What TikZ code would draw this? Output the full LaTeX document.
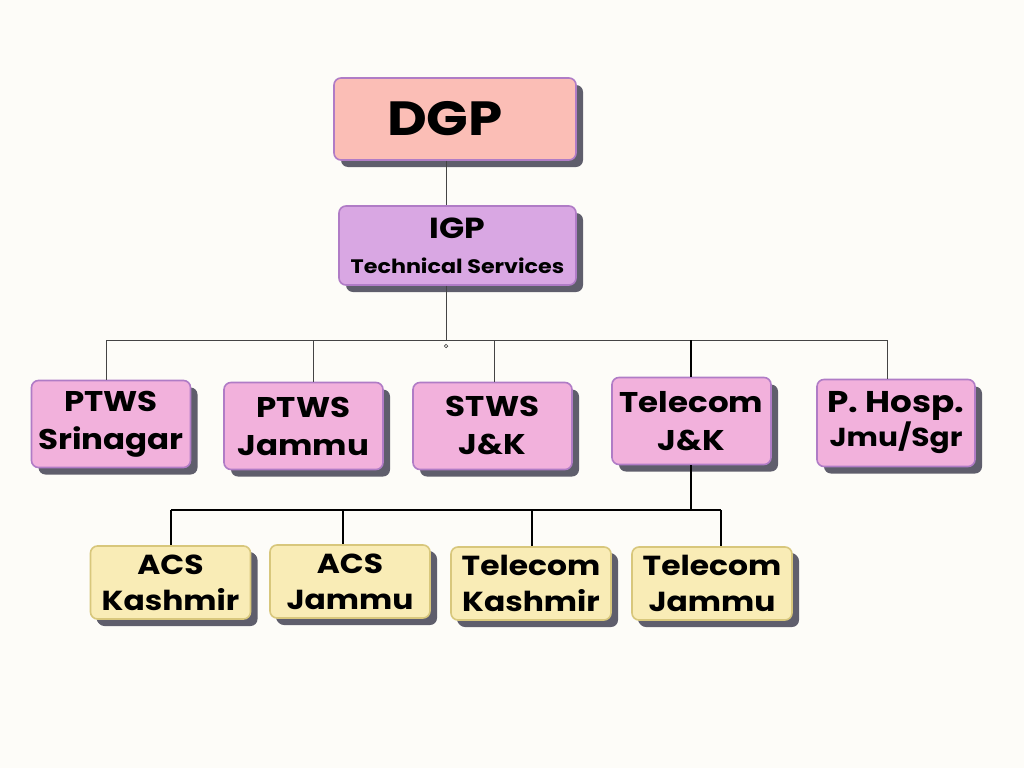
\documentclass[tikz,border=0pt]{standalone}
\usepackage{fontspec}
\setmainfont{Poppins}[FakeStretch=1.14]
\usetikzlibrary{shadows}
\definecolor{bg}{HTML}{FDFCF8}
\definecolor{dgpfill}{HTML}{FBBEB6}
\definecolor{igpfill}{HTML}{D9A7E3}
\definecolor{pinkfill}{HTML}{F2B1DC}
\definecolor{purpleedge}{HTML}{B07CC6}
\definecolor{yellowfill}{HTML}{F9ECB6}
\definecolor{yellowedge}{HTML}{D8C77C}
\definecolor{shadowc}{HTML}{5F5E6C}
\definecolor{linec}{HTML}{444444}
\tikzset{
  box/.style={rectangle, rounded corners=7pt, line width=1.6pt, align=center, inner sep=0pt,
    font=\bfseries, text=black,
    drop shadow={shadow xshift=7pt, shadow yshift=-7pt, fill=shadowc, opacity=1}},
  dgpbox/.style={box, fill=dgpfill, draw=purpleedge},
  igpbox/.style={box, fill=igpfill, draw=purpleedge},
  pinkbox/.style={box, fill=pinkfill, draw=purpleedge, minimum width=159pt, minimum height=87pt,
    font=\bfseries\fontsize{28.5}{38}\selectfont},
  yellowbox/.style={box, fill=yellowfill, draw=yellowedge, minimum width=160pt, minimum height=73pt,
    font=\bfseries\fontsize{27.5}{36}\selectfont,
    drop shadow={shadow xshift=6pt, shadow yshift=-6pt, fill=shadowc, opacity=1}},
  thinline/.style={draw=linec, line width=0.9pt},
  boldline/.style={draw=black, line width=1.8pt}
}
\begin{document}
\begin{tikzpicture}[x=1pt, y=-1pt]
\fill[bg] (0,0) rectangle (1024,768);
\useasboundingbox (0,0) rectangle (1024,768);
\coordinate (trunk) at (446,340);
\coordinate (xS) at (106,340);
\coordinate (xJ) at (313,340);
\coordinate (xST) at (494,340);
\coordinate (xT) at (691,340);
\coordinate (xH) at (887,340);
\coordinate (c0) at (691,510);
\coordinate (c1) at (171,510);
\coordinate (c2) at (343,510);
\coordinate (c3) at (532,510);
\coordinate (c4) at (721,510);

\node[dgpbox, minimum width=242pt, minimum height=82pt, font=\bfseries\fontsize{48}{50}\selectfont] (dgp) at (455,119) {DGP\hspace*{20pt}};
\node[igpbox, minimum width=237pt, minimum height=79pt, font=\bfseries\fontsize{29}{35}\selectfont] (igp) at (457.5,245.5)
  {IGP\\{\fontsize{19.5}{24}\selectfont Technical Services}};

\node[pinkbox] (ptwsS) at (111,424) {PTWS\\Srinagar};
\node[pinkbox] (ptwsJ) at (303.5,426) {PTWS\\Jammu};
\node[pinkbox] (stws) at (492.5,426) {STWS\\J\&K};
\node[pinkbox] (tel) at (691.5,421) {Telecom\\J\&K};
\node[pinkbox, minimum width=158pt, font=\bfseries\fontsize{30}{34}\selectfont] (hosp) at (896,423) {P. Hosp.\\{\fontsize{26}{30}\selectfont Jmu/Sgr}};

\node[yellowbox] (acsK) at (170.5,582.5) {ACS\\Kashmir};
\node[yellowbox] (acsJ) at (350,581.5) {ACS\\Jammu};
\node[yellowbox] (telK) at (531,583.5) {Telecom\\Kashmir};
\node[yellowbox] (telJ) at (712,583.5) {Telecom\\Jammu};

\draw[thinline] (dgp.south -| trunk) -- (igp.north -| trunk);
\draw[thinline] (igp.south -| trunk) -- (trunk);
\draw[thinline] (xS) -- (xH);
\draw[thinline] (xS) -- (xS |- ptwsS.north);
\draw[thinline] (xJ) -- (xJ |- ptwsJ.north);
\draw[thinline] (xST) -- (xST |- stws.north);
\draw[boldline] (xT) -- (xT |- tel.north);
\draw[thinline] (xH) -- (xH |- hosp.north);
\node[circle, draw=linec, line width=0.7pt, fill=bg, inner sep=0pt, minimum size=3.5pt] (dot) at (446,346) {};
\draw[boldline] (tel.south -| c0) -- (c0);
\draw[boldline] (c1) -- (c4);
\draw[boldline] (c1) -- (c1 |- acsK.north);
\draw[boldline] (c2) -- (c2 |- acsJ.north);
\draw[boldline] (c3) -- (c3 |- telK.north);
\draw[boldline] (c4) -- (c4 |- telJ.north);
\end{tikzpicture}
\end{document}
